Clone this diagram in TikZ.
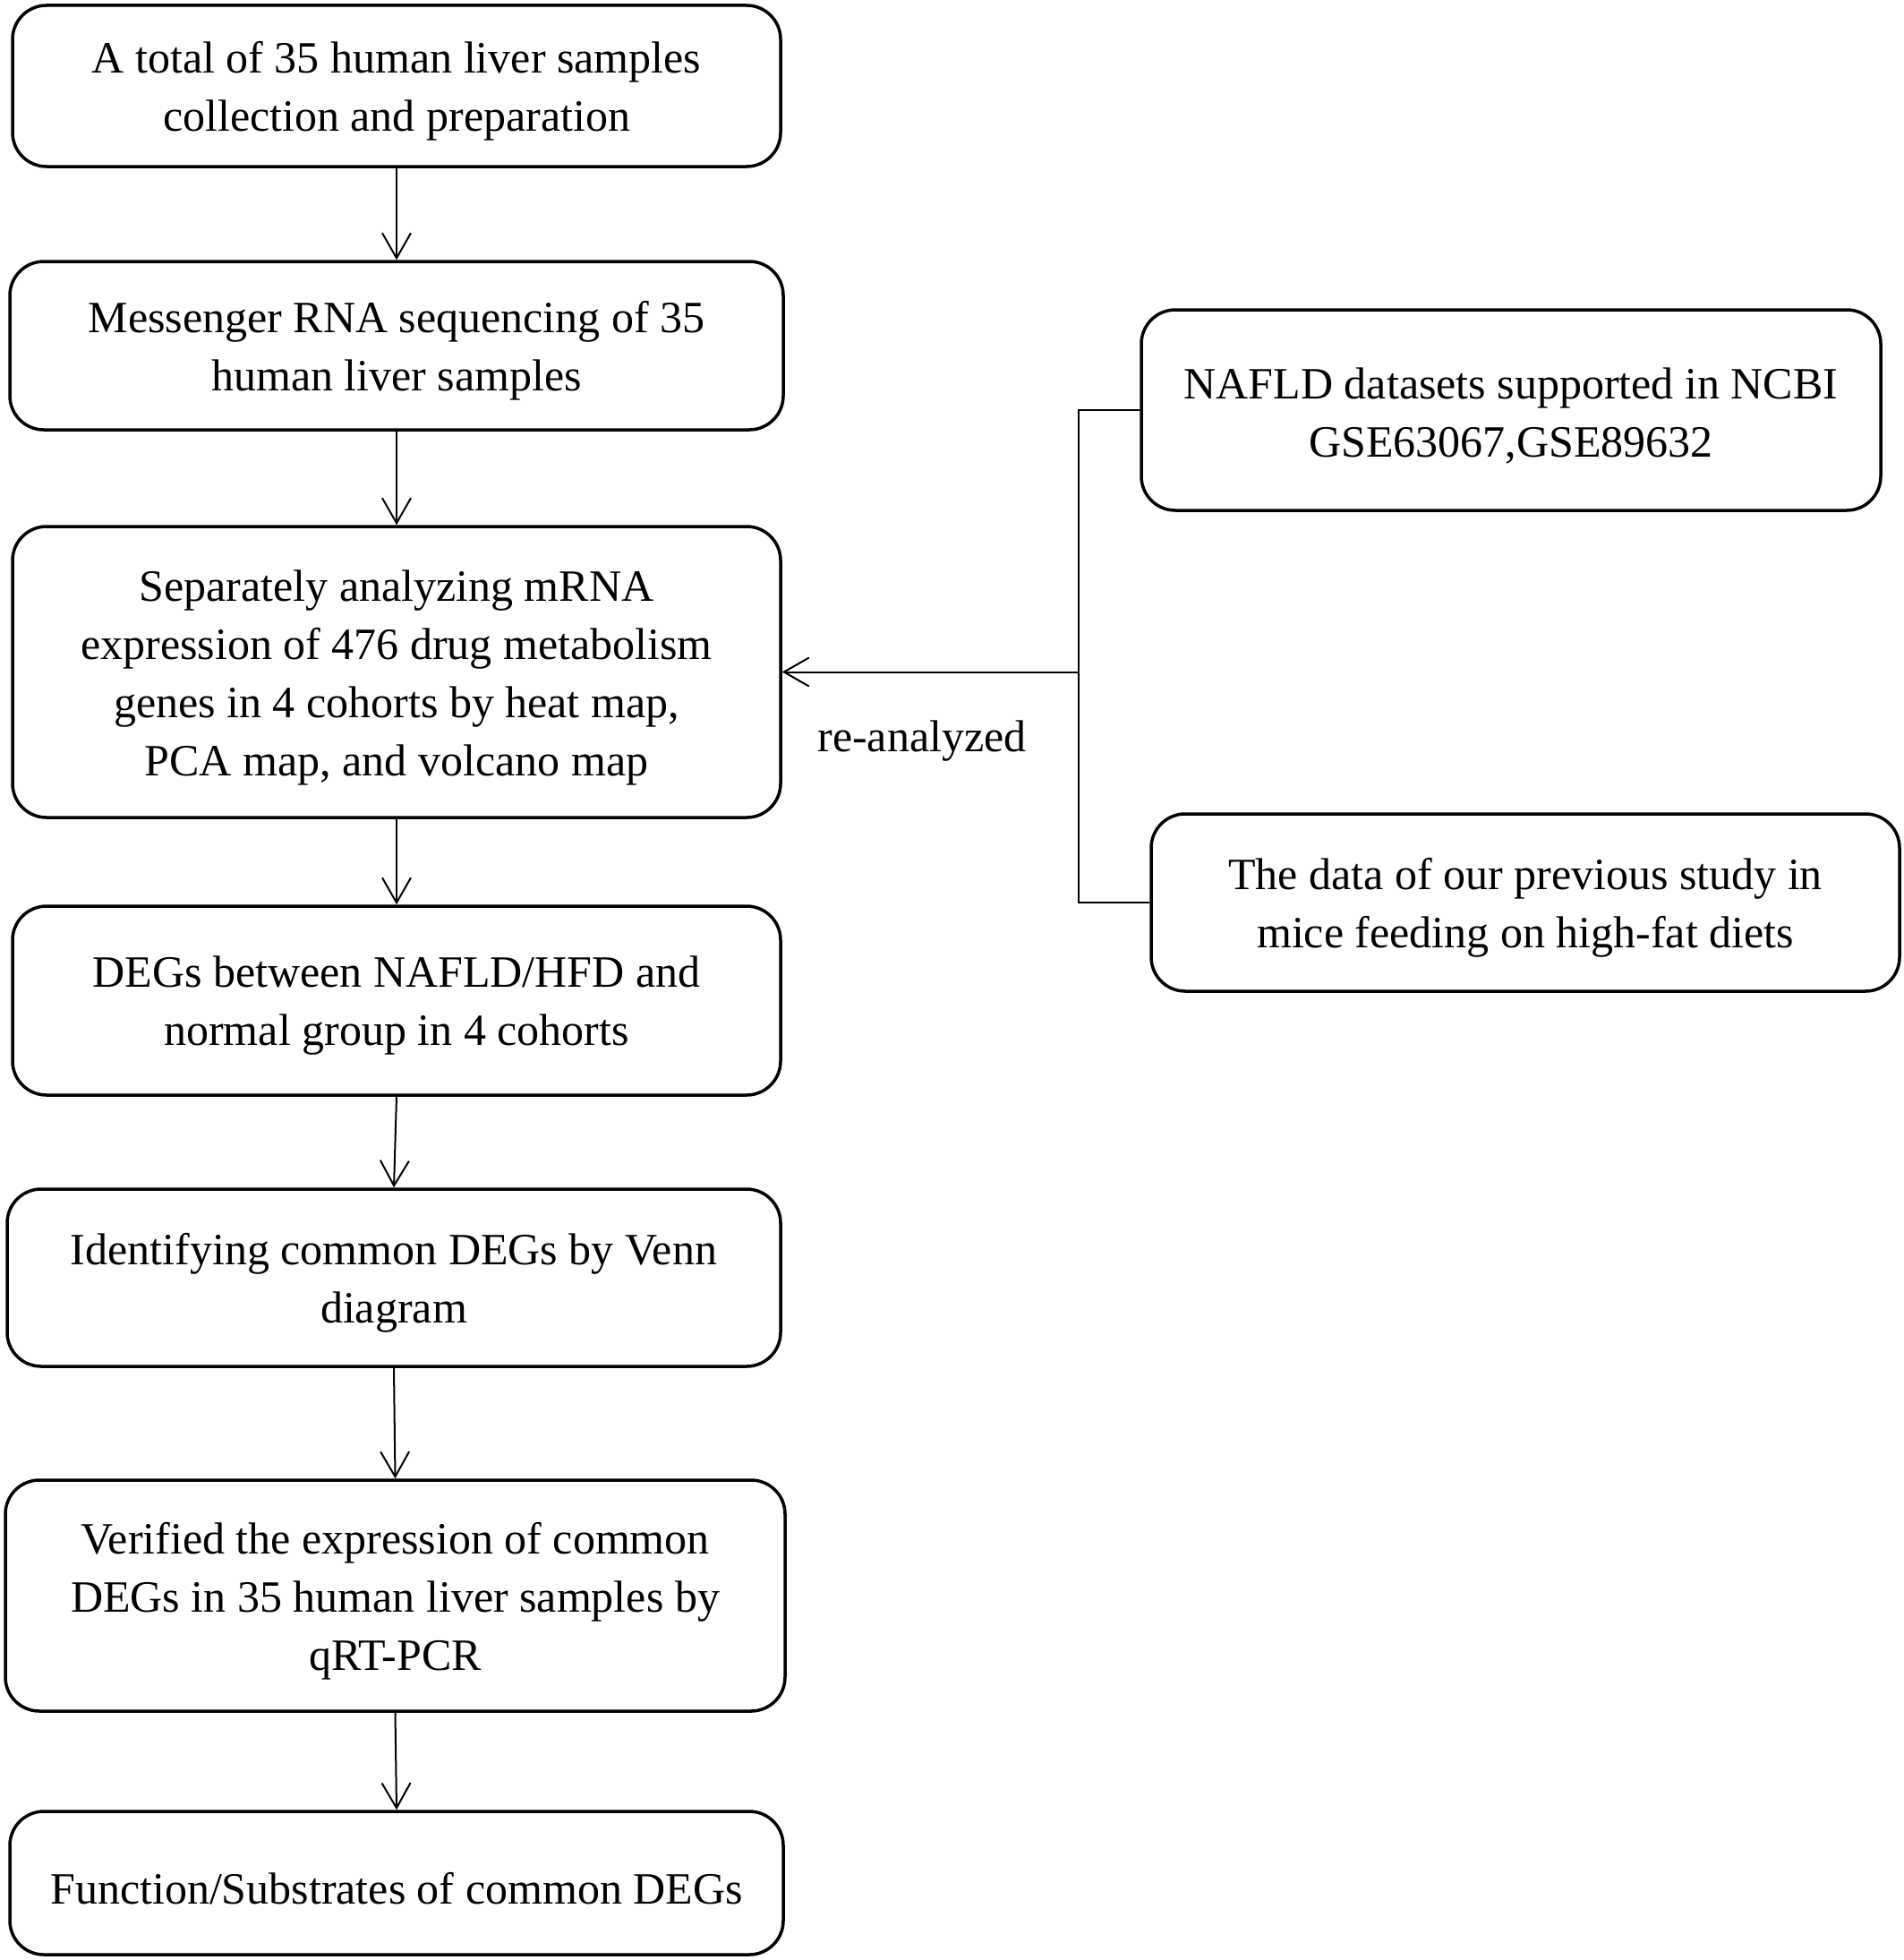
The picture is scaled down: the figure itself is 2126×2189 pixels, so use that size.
\documentclass[tikz,border=0pt]{standalone}
\usepackage{fontspec}
\setmainfont{Liberation Serif}
\usetikzlibrary{arrows.meta}
\begin{document}
\begin{tikzpicture}[x=1pt,y=1pt,
  boxtext/.style={inner sep=0pt, align=center, yshift=-6pt,
    font=\fontsize{50}{65}\selectfont},
  flowbox/.style={draw, line width=3.5pt, rounded corners=38pt, inner sep=0pt},
  flowarrow/.style={line width=2pt, -{Straight Barb[length=28pt,width=32pt,line width=2pt]}},
  joinline/.style={line width=2pt}]
\useasboundingbox (0,0) rectangle (2126,-2189);
\fill[white] (0,0) rectangle (2126,-2189);
\node[flowbox, minimum width=858pt, minimum height=180pt,
  label={[boxtext]center:{A total of 35 human liver samples\\collection and preparation}}] (b1) at (443,-96) {};
\node[flowbox, minimum width=864pt, minimum height=188pt,
  label={[boxtext]center:{Messenger RNA sequencing of 35\\human liver samples}}] (b2) at (443,-386) {};
\node[flowbox, minimum width=858pt, minimum height=325pt,
  label={[boxtext]center:{Separately analyzing mRNA\\expression of 476 drug metabolism\\genes in 4 cohorts by heat map,\\PCA map, and volcano map}}] (b3) at (443,-750.5) {};
\node[flowbox, minimum width=858pt, minimum height=211pt,
  label={[boxtext]center:{DEGs between NAFLD/HFD and\\normal group in 4 cohorts}}] (b4) at (443,-1117.5) {};
\node[flowbox, minimum width=864pt, minimum height=198pt,
  label={[boxtext]center:{Identifying common DEGs by Venn\\diagram}}] (b5) at (440,-1427) {};
\node[flowbox, minimum width=871pt, minimum height=258pt,
  label={[boxtext]center:{Verified the expression of common\\DEGs in 35 human liver samples by\\qRT-PCR}}] (b6) at (441.5,-1782) {};
\node[flowbox, minimum width=864pt, minimum height=160pt,
  label={[boxtext]center:{Function/Substrates of common DEGs}}] (b7) at (443,-2103) {};
\node[flowbox, minimum width=826pt, minimum height=224pt,
  label={[boxtext]center:{NAFLD datasets supported in NCBI\\GSE63067,GSE89632}}] (ra) at (1688,-458) {};
\node[flowbox, minimum width=836pt, minimum height=198pt,
  label={[boxtext]center:{The data of our previous study in\\mice feeding on high-fat diets}}] (rb) at (1704,-1008) {};
\draw[flowarrow] (b1.south) -- (b2.north);
\draw[flowarrow] (b2.south) -- (b3.north);
\draw[flowarrow] (b3.south) -- (b4.north);
\draw[flowarrow] (b4.south) -- (b5.north);
\draw[flowarrow] (b5.south) -- (b6.north);
\draw[flowarrow] (b6.south) -- (b7.north);
\coordinate (jt) at (1205,-458);
\coordinate (jm) at (1205,-750.5);
\coordinate (jb) at (1205,-1008);
\draw[joinline] (ra.west) -- (jt) -- (jb) -- (rb.west);
\draw[flowarrow] (jm) -- (b3.east);
\node[font=\fontsize{50}{65}\selectfont, inner sep=0pt] (lbl) at (1030,-828) {re-analyzed};
\end{tikzpicture}
\end{document}
